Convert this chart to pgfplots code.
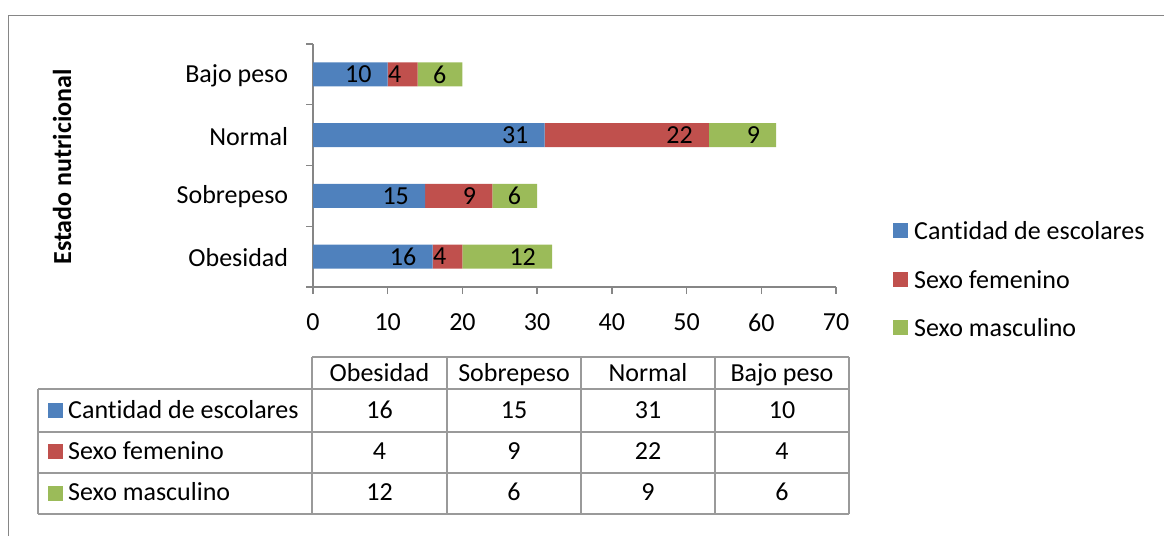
\documentclass[border=0pt]{standalone}
\usepackage{fontspec}
\setmainfont{Carlito}[Ligatures=NoCommon]
\usepackage{pgfplots}
\usepackage{pgfplotstable}
\pgfplotsset{compat=1.18}
\definecolor{cblue}{HTML}{4F81BD}
\definecolor{cred}{HTML}{C0504D}
\definecolor{cgreen}{HTML}{9BBB59}
\definecolor{axgray}{HTML}{868686}
\definecolor{tabgray}{HTML}{9A9A9A}
\pgfplotstableread{
y cant fem masc
0 16 4 12
1 15 9 6
2 31 22 9
3 10 4 6
}\datatable
\begin{document}
\fontsize{26pt}{31pt}\selectfont
\begin{tikzpicture}[font=\fontsize{26pt}{31pt}\selectfont]
\path[use as bounding box] (0pt,0pt) rectangle (1164pt,-536pt);
\begin{axis}[
  at={(313pt,-287pt)}, anchor=south west,
  scale only axis, width=523pt, height=243pt,
  xmin=0, xmax=70, ymin=-0.5, ymax=3.5,
  xbar stacked, bar width=24pt,
  axis x line*=bottom, axis y line*=left,
  axis line style={axgray, line width=1.3pt},
  every tick/.style={axgray, line width=1.3pt},
  tick align=outside, major tick length=7pt,
  xtick={0,10,...,70},
  ytick={-0.5,0.5,1.5,2.5,3.5},
  yticklabels={,Obesidad,Sobrepeso,Normal,Bajo peso},
  yticklabel style={yshift=-31.5pt, xshift=-9pt, font=\fontsize{26pt}{31pt}\selectfont},
  xticklabel style={yshift=-11pt, font=\fontsize{26pt}{31pt}\selectfont},
  /pgf/number format/assume math mode=true,
  point meta=explicit,
  nodes near coords,
  nodes near coords style={anchor=east, inner sep=0pt, xshift={\segval*3.7357pt-16pt}, black, font=\fontsize{26pt}{31pt}\selectfont},
]
\addplot[fill=cblue, draw=none, visualization depends on={\thisrow{cant} \as \segval}] table[x=cant, y=y, meta=cant] {\datatable};
\addplot[fill=cred, draw=none, visualization depends on={\thisrow{fem} \as \segval}] table[x=fem, y=y, meta=fem] {\datatable};
\addplot[fill=cgreen, draw=none, visualization depends on={\thisrow{masc} \as \segval}] table[x=masc, y=y, meta=masc] {\datatable};
\end{axis}
\begin{scope}[x=1pt,y=-1pt]
  % outer frame
  \draw[axgray, line width=1.6pt] (8.5,536) -- (8.5,15.5) -- (1164,15.5);
  % y axis title
  \node[rotate=90, inner sep=0pt] at (62,167) {\bfseries Estado nutricional};
  % legend
  \fill[cblue] (893,223) rectangle (908,238);
  \node[anchor=west, inner sep=0pt] at (914,230.5) {Cantidad de escolares};
  \fill[cred] (893,272) rectangle (908,287);
  \node[anchor=west, inner sep=0pt] at (914,279.5) {Sexo femenino};
  \fill[cgreen] (893,320) rectangle (908,335);
  \node[anchor=west, inner sep=0pt] at (914,327.5) {Sexo masculino};
  % data table
  \draw[tabgray, line width=1.5pt] (312,357) -- (849,357);
  \draw[tabgray, line width=1.5pt] (38,389) -- (849,389);
  \draw[tabgray, line width=1.5pt] (38,432) -- (849,432);
  \draw[tabgray, line width=1.5pt] (38,473) -- (849,473);
  \draw[tabgray, line width=1.5pt] (38,514) -- (849,514);
  \draw[tabgray, line width=1.5pt] (38,389) -- (38,514);
  \foreach \xx in {312,447,581,715,849} \draw[tabgray, line width=1.5pt] (\xx,357) -- (\xx,514);
  % header
  \foreach \xx/\tt in {379.5/Obesidad,514/Sobrepeso,648/Normal,782/Bajo peso}
    \node[anchor=base, inner sep=0pt] at (\xx,381) {\tt};
  % row headers
  \fill[cblue] (48,403) rectangle (63,418);
  \node[anchor=base west, inner sep=0pt] at (68,418) {Cantidad de escolares};
  \fill[cred] (48,444) rectangle (63,459);
  \node[anchor=base west, inner sep=0pt] at (68,459) {Sexo femenino};
  \fill[cgreen] (48,486) rectangle (63,501);
  \node[anchor=base west, inner sep=0pt] at (68,500) {Sexo masculino};
  % values
  \foreach \xx/\tt in {379.5/16,514/15,648/31,782/10}
    \node[anchor=base, inner sep=0pt] at (\xx,418.3) {\tt};
  \foreach \xx/\tt in {379.5/4,514/9,648/22,782/4}
    \node[anchor=base, inner sep=0pt] at (\xx,459.3) {\tt};
  \foreach \xx/\tt in {379.5/12,514/6,648/9,782/6}
    \node[anchor=base, inner sep=0pt] at (\xx,500.3) {\tt};
\end{scope}
\end{tikzpicture}
\end{document}
